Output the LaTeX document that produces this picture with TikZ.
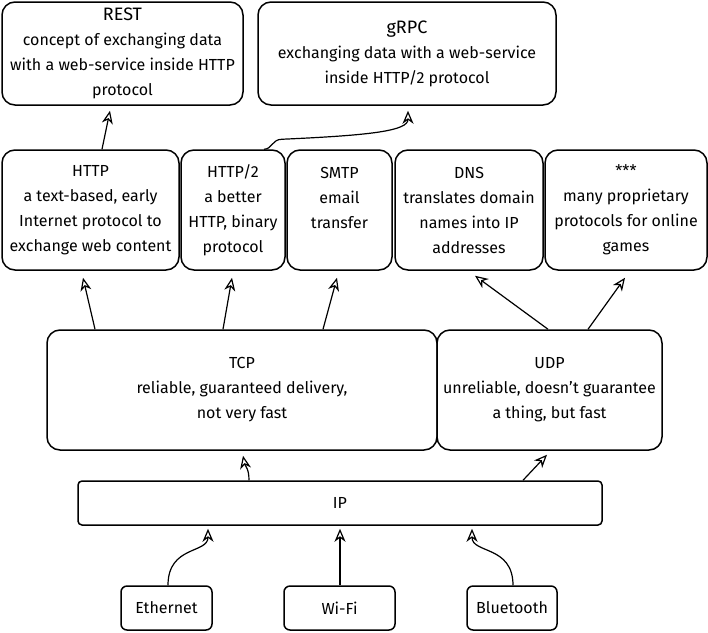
\documentclass[tikz,border=0pt]{standalone}
\usepackage{fontspec}
\setmainfont{Fira Sans}
\usetikzlibrary{arrows.meta, positioning}

\begin{document}
\begin{tikzpicture}[x=1pt, y=-1pt,
    box/.style={draw, line width=1.5pt, rounded corners=13pt, align=center, inner sep=0pt,
      font=\fontsize{16}{25}\selectfont},
    small/.style={box, rounded corners=6pt, minimum height=44},
    arr/.style={line width=1.2pt, -{Stealth[open, length=13pt, width=11pt, inset=4pt, line width=1.2pt]}}]
    \useasboundingbox (0,0) rectangle (708,632);

    % Services
    \node[box, minimum width=241, minimum height=103] (rest) at (122.5,53.5)
      {{\fontsize{18}{25}\selectfont REST}\\concept of exchanging data\\with a web-service inside HTTP\\protocol};
    \node[box, minimum width=298, minimum height=103] (grpc) at (407,53.5)
      {{\fontsize{18}{25}\selectfont gRPC}\\exchanging data with a web-service\\inside HTTP/2 protocol};

    % Application protocols
    \node[box, minimum width=177, minimum height=120] (http) at (90.5,210)
      {HTTP\\a text-based, early\\Internet protocol to\\exchange web content};
    \node[box, minimum width=104, minimum height=120] (http2) at (233,210)
      {HTTP/2\\a better\\HTTP, binary\\protocol};
    \node[box, minimum width=105, minimum height=120] (smtp) at (339.5,210)
      {SMTP\\email\\transfer\\\mbox{}};
    \node[box, minimum width=148, minimum height=120] (dns) at (469,210)
      {DNS\\translates domain\\names into IP\\addresses};
    \node[box, minimum width=162, minimum height=120] (games) at (626,210)
      {***\\many proprietary\\protocols for online\\games};

    % Transport
    \node[box, minimum width=390, minimum height=120] (tcp) at (242,390)
      {TCP\\reliable, guaranteed delivery,\\not very fast};
    \node[box, minimum width=225, minimum height=120] (udp) at (549.5,390)
      {UDP\\unreliable, doesn't guarantee\\a thing, but fast};

    % Network
    \node[box, rounded corners=4pt, minimum width=524, minimum height=44] (ip) at (340,503) {IP};

    % Link
    \node[small, minimum width=91] (eth) at (166.5,608) {Ethernet};
    \node[small, minimum width=111] (wifi) at (339.5,608) {Wi-Fi};
    \node[small, minimum width=90] (bt) at (512,608) {Bluetooth};

    % Arrows
    \draw[arr] ([xshift=11.5]http.north) -- ([xshift=-12.5,yshift=-5]rest.south);
    \draw[arr] ([xshift=31]http2.north) .. controls +(8,0) and +(-10,0) .. ++(18,-10)
      .. controls +(90,-4) and +(0,20) .. ([xshift=1,yshift=-5]grpc.south);
    \draw[arr] ([xshift=-147]tcp.north) -- ([xshift=-7.5,yshift=-7]http.south);
    \draw[arr] ([xshift=-19]tcp.north) -- ([xshift=-1,yshift=-7]http2.south);
    \draw[arr] ([xshift=81]tcp.north) -- ([xshift=-2.5,yshift=-7]smtp.south);
    \draw[arr] ([xshift=-1.5]udp.north) -- ([xshift=6,yshift=-5]dns.south);
    \draw[arr] ([xshift=38.5]udp.north) -- ([xshift=-1,yshift=-7]games.south);
    \draw[arr] ([xshift=-91]ip.north) .. controls +(0,-12) and +(2,10) .. ([xshift=1,yshift=-5]tcp.south);
    \draw[arr] ([xshift=183]ip.north) -- ([xshift=-2.5,yshift=-4]udp.south);
    \draw[arr] ([xshift=1.5]eth.north) .. controls +(0,-40) and +(0,25) .. ([xshift=-132,yshift=-3]ip.south);
    \draw[arr] ([xshift=0.5]wifi.north) -- ([yshift=-3]ip.south);
    \draw[arr] ([xshift=1]bt.north) .. controls +(0,-40) and +(0,25) .. ([xshift=132,yshift=-3]ip.south);
\end{tikzpicture}
\end{document}
